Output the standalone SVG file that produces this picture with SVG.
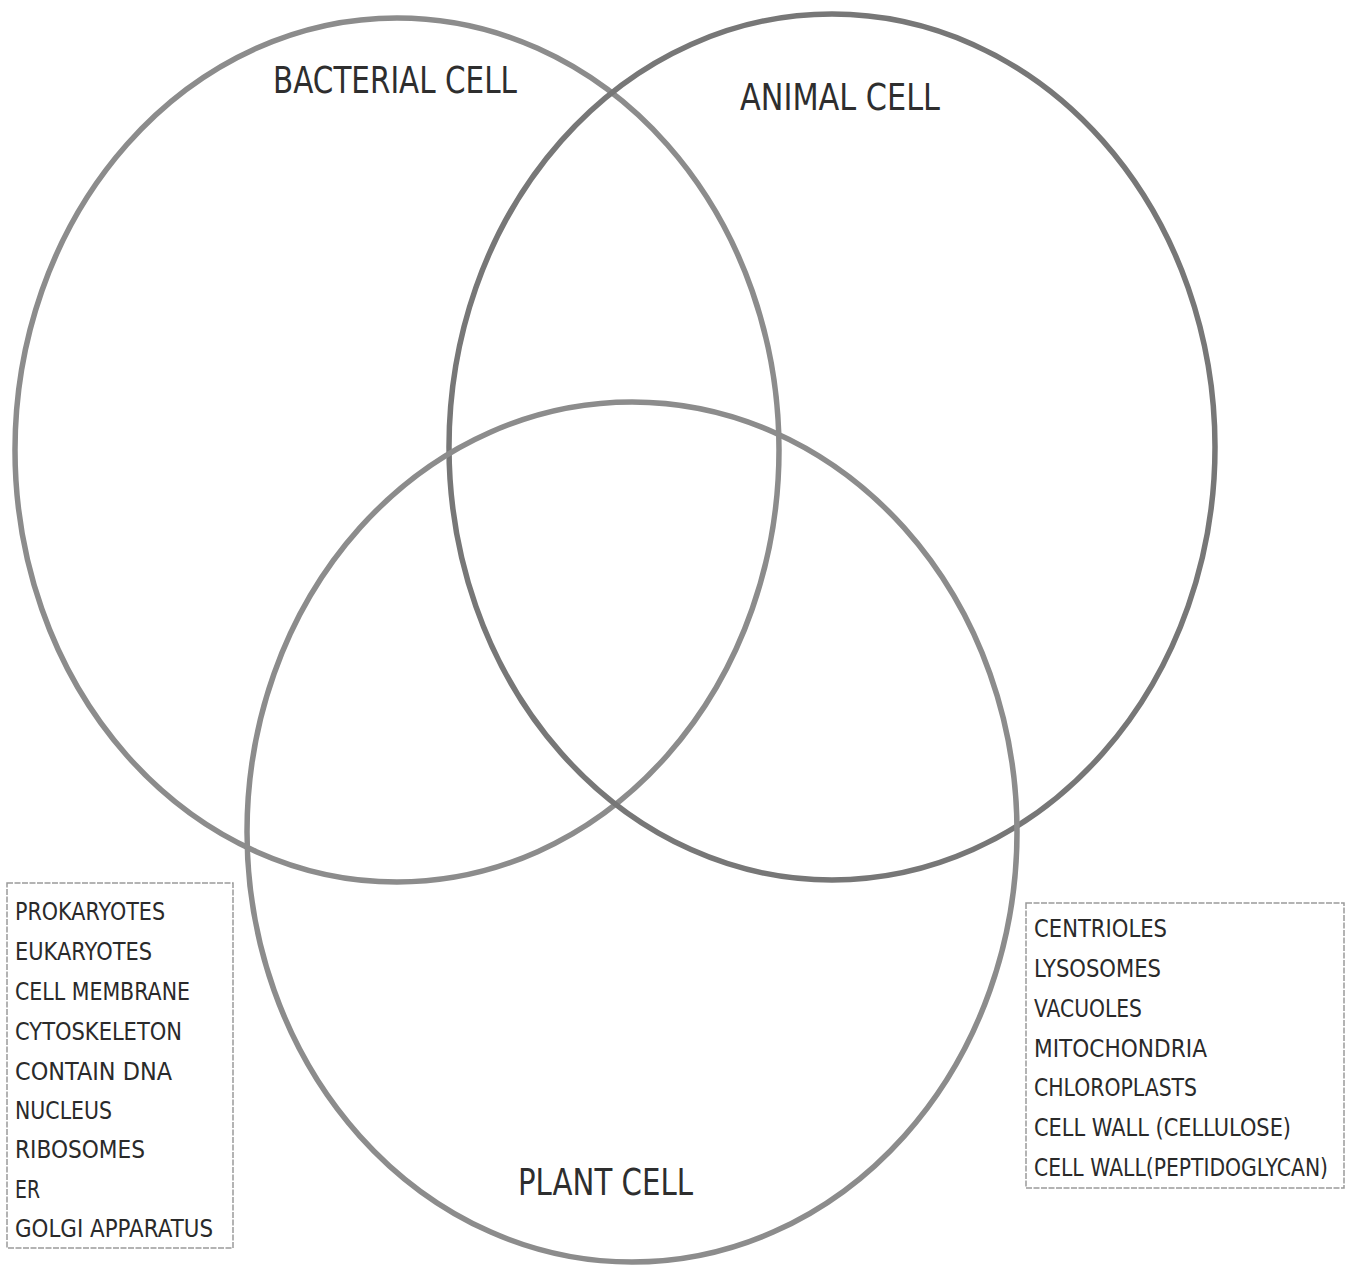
<svg xmlns="http://www.w3.org/2000/svg" width="1349" height="1272" viewBox="0 0 1349 1272">
<style>
.ring{fill:none;stroke:#8c8c8c;stroke-width:5.5}
.dark{stroke:#777}
.title{font-family:"DejaVu Sans","Liberation Sans",sans-serif;font-size:38px;fill:#2e2e2e}
.item{font-family:"DejaVu Sans","Liberation Sans",sans-serif;font-size:24px;fill:#2a2a2a}
.box{fill:none;stroke:#9a9a9a;stroke-width:1.5;stroke-dasharray:6 1.5}
</style>
<rect width="1349" height="1272" fill="#ffffff"/>
<g id="connectors"></g>
<g id="bacterial">
<ellipse class="ring" cx="397" cy="450" rx="382" ry="432"/>
<text class="title" x="273" y="93" textLength="244" lengthAdjust="spacingAndGlyphs">BACTERIAL CELL</text>
</g>
<g id="animal">
<ellipse class="ring dark" cx="832" cy="447" rx="383" ry="433"/>
<text class="title" x="740" y="110" textLength="200" lengthAdjust="spacingAndGlyphs">ANIMAL CELL</text>
</g>
<g id="plant">
<ellipse class="ring" cx="632" cy="832" rx="385" ry="430"/>
<text class="title" x="518" y="1195" textLength="175" lengthAdjust="spacingAndGlyphs" fill="#444">PLANT CELL</text>
</g>
<g id="legend-left">
<rect class="box" x="7" y="883" width="226" height="365"/>
<text class="item" x="15" y="920" textLength="150" lengthAdjust="spacingAndGlyphs">PROKARYOTES</text>
<text class="item" x="15" y="960" textLength="137" lengthAdjust="spacingAndGlyphs">EUKARYOTES</text>
<text class="item" x="15" y="1000" textLength="175" lengthAdjust="spacingAndGlyphs">CELL MEMBRANE</text>
<text class="item" x="15" y="1040" textLength="167" lengthAdjust="spacingAndGlyphs">CYTOSKELETON</text>
<text class="item" x="15" y="1080" textLength="157" lengthAdjust="spacingAndGlyphs">CONTAIN DNA</text>
<text class="item" x="15" y="1119" textLength="97" lengthAdjust="spacingAndGlyphs">NUCLEUS</text>
<text class="item" x="15" y="1158" textLength="130" lengthAdjust="spacingAndGlyphs">RIBOSOMES</text>
<text class="item" x="15" y="1198" textLength="25" lengthAdjust="spacingAndGlyphs">ER</text>
<text class="item" x="15" y="1237" textLength="198" lengthAdjust="spacingAndGlyphs">GOLGI APPARATUS</text>
</g>
<g id="legend-right">
<rect class="box" x="1026" y="903" width="318" height="285"/>
<text class="item" x="1034" y="937" textLength="133" lengthAdjust="spacingAndGlyphs">CENTRIOLES</text>
<text class="item" x="1034" y="977" textLength="127" lengthAdjust="spacingAndGlyphs">LYSOSOMES</text>
<text class="item" x="1034" y="1017" textLength="108" lengthAdjust="spacingAndGlyphs">VACUOLES</text>
<text class="item" x="1034" y="1057" textLength="173" lengthAdjust="spacingAndGlyphs">MITOCHONDRIA</text>
<text class="item" x="1034" y="1096" textLength="163" lengthAdjust="spacingAndGlyphs">CHLOROPLASTS</text>
<text class="item" x="1034" y="1136" textLength="257" lengthAdjust="spacingAndGlyphs">CELL WALL (CELLULOSE)</text>
<text class="item" transform="translate(1034,1176) scale(0.78,1)" x="0" y="0" textLength="377" lengthAdjust="spacingAndGlyphs">CELL WALL(PEPTIDOGLYCAN)</text>
</g>
</svg>
